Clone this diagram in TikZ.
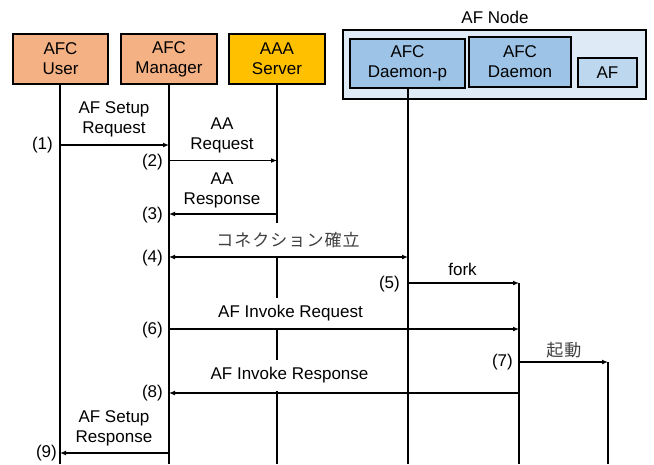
\documentclass[tikz,border=0pt]{standalone}
\usepackage{fontspec}
\setmainfont{Liberation Sans}
\newfontfamily\jpfont[LetterSpace=6]{Noto Sans CJK JP}
\usetikzlibrary{arrows.meta}
\definecolor{afcorange}{HTML}{F4B183}
\definecolor{aaayellow}{HTML}{FFC000}
\definecolor{nodebg}{HTML}{DEEBF7}
\definecolor{daemonblue}{HTML}{9DC3E6}
\definecolor{afblue}{HTML}{BDD7EE}
\begin{document}
\begin{tikzpicture}[x=1pt,y=-1pt,
  every node/.style={font=\fontsize{17}{20}\selectfont},
  actor/.style={draw,line width=1.6pt,align=center,inner sep=0pt},
  lifeline/.style={line width=1.6pt},
  msgarrow/.style={line width=1.2pt,-{Latex[length=6pt,width=5pt]}},
  dblarrow/.style={line width=1.2pt,{Latex[length=6pt,width=5pt]}-{Latex[length=6pt,width=5pt]}},
  lbl/.style={fill=white,align=center,inner xsep=1pt,inner ysep=8pt},
  numlbl/.style={anchor=east,inner sep=0pt}]
\useasboundingbox (0,0) rectangle (654,464);
\fill[white] (0,0) rectangle (654,464);
% actors
\node[actor,fill=afcorange,minimum width=95pt,minimum height=50pt] (user) at (60.5,59) {AFC\\User};
\node[actor,fill=afcorange,minimum width=96pt,minimum height=50pt] (mgr) at (169,59) {AFC\\Manager};
\node[actor,fill=aaayellow,minimum width=96pt,minimum height=50pt] (aaa) at (277,59) {AAA\\Server};
\node[actor,fill=nodebg,minimum width=303pt,minimum height=69pt] (afnode) at (494.5,64.5) {};
\node[inner sep=0pt] (afnodelbl) at (495,17.5) {AF Node};
\node[actor,fill=daemonblue,minimum width=115pt,minimum height=49pt] (dp) at (407.5,63.5) {AFC\\Daemon-p};
\node[actor,fill=daemonblue,minimum width=102pt,minimum height=50pt] (dm) at (520,62) {AFC\\Daemon};
\node[actor,fill=afblue,minimum width=59pt,minimum height=29pt] (af) at (607.5,72.5) {AF};
% lifeline coordinates
\coordinate (userend) at (60,464);
\coordinate (mgrend) at (169,464);
\coordinate (aaaend) at (277,464);
\coordinate (dpend) at (408,464);
\coordinate (dmstart) at (519,283);
\coordinate (dmend) at (519,464);
\coordinate (afstart) at (608,362);
\coordinate (afend) at (608,464);
\draw[lifeline] (user.south -| userend) -- (userend);
\draw[lifeline] (mgr.south -| mgrend) -- (mgrend);
\draw[lifeline] (aaa.south -| aaaend) -- (aaaend);
\draw[lifeline] (dp.south -| dpend) -- (dpend);
\draw[lifeline] (dmstart) -- (dmend);
\draw[lifeline] (afstart) -- (afend);
% labels
\node[lbl,inner ysep=1pt] (l1) at (114,119) {AF Setup\\Request};
\node[lbl,inner ysep=1pt] (l2) at (222,135.5) {AA\\Request};
\node[lbl,inner ysep=1pt] (l3) at (222,190) {AA\\Response};
\node[lbl,inner ysep=9pt,text=black!75] (l4) at (288,240) {\jpfont コネクション確立};
\node[lbl,inner ysep=1pt] (l5) at (462.5,269) {fork};
\node[lbl] (l6) at (290.5,313.5) {AF Invoke Request};
\node[lbl,inner ysep=1pt,text=black!75] (l7) at (564,350) {\jpfont 起動};
\node[lbl] (l8) at (289.5,375.5) {AF Invoke Response};
\node[lbl,inner ysep=1pt] (l9) at (114,428) {AF Setup\\Response};
% arrow end points
\coordinate (u1) at (60,145);   \coordinate (m1) at (169,145);
\coordinate (m2) at (169,160.5);\coordinate (a2) at (277,160.5);
\coordinate (a3) at (277,214);  \coordinate (m3) at (169,214);
\coordinate (m4) at (169,257);  \coordinate (d4) at (408,257);
\coordinate (d5) at (408,283);
\coordinate (m6) at (169,329);  \coordinate (n6) at (519,329);
\coordinate (n7) at (519,362);
\coordinate (n8) at (519,393);  \coordinate (m8) at (169,393);
\coordinate (m9) at (169,453);  \coordinate (u9) at (60,453);
\draw[msgarrow] (u1) -- (m1);
\draw[msgarrow] (m2) -- (a2);
\draw[msgarrow] (a3) -- (m3);
\draw[dblarrow] (m4) -- (d4);
\draw[msgarrow] (d5) -- (dmstart);
\draw[msgarrow] (m6) -- (n6);
\draw[msgarrow] (n7) -- (afstart);
\draw[msgarrow] (n8) -- (m8);
\draw[msgarrow] (m9) -- (u9);
% step numbers
\node[numlbl] (s1) at (53,145) {(1)};
\node[numlbl] (s2) at (163,162) {(2)};
\node[numlbl] (s3) at (163,215) {(3)};
\node[numlbl] (s4) at (163,258) {(4)};
\node[numlbl] (s5) at (400,284) {(5)};
\node[numlbl] (s6) at (163,330) {(6)};
\node[numlbl] (s7) at (513,362) {(7)};
\node[numlbl] (s8) at (163,393) {(8)};
\node[numlbl] (s9) at (57,453) {(9)};
\end{tikzpicture}
\end{document}
